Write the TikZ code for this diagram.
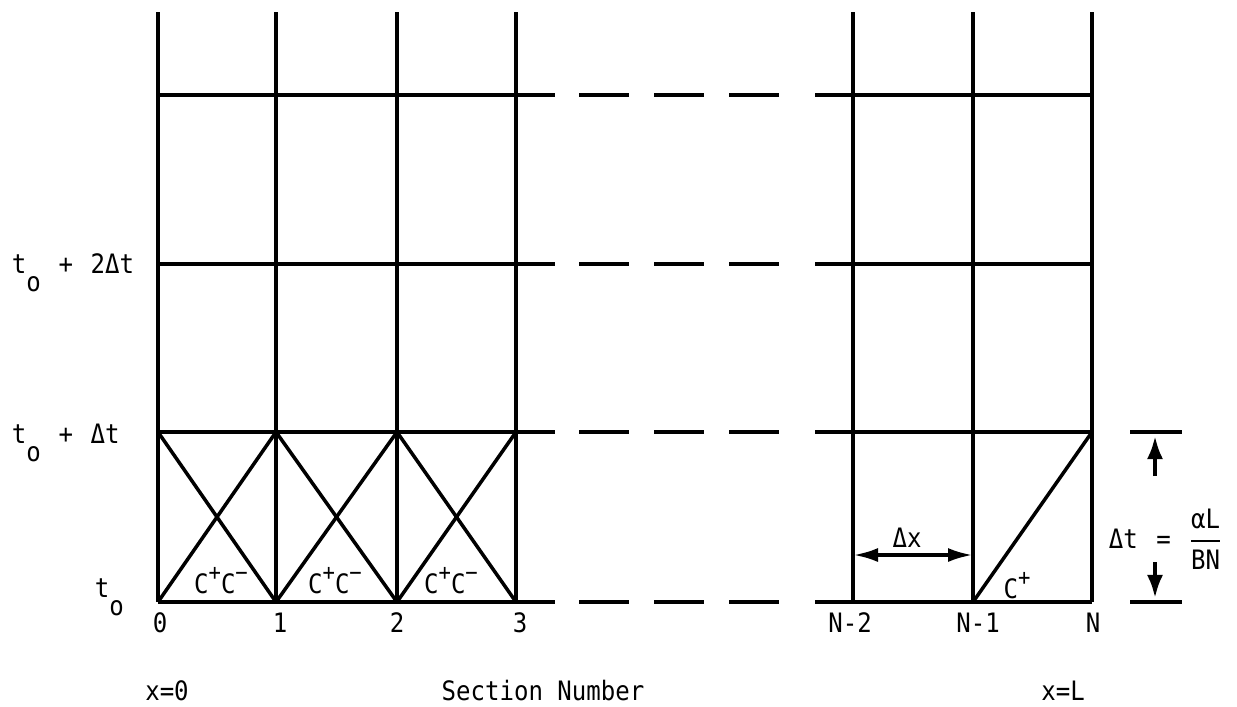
\documentclass[tikz,border=0pt]{standalone}
\usepackage{fontspec}
\setmainfont{DejaVu Sans Mono}[FakeStretch=0.9]
\usetikzlibrary{arrows.meta}
% t with its lowered o
\newcommand{\tzero}{t\raisebox{-0.68em}{o}}
% raised sign after C
\newcommand{\csign}[1]{\raisebox{0.45em}{\fontsize{6.5}{7}\selectfont #1}}

\begin{document}
\begin{tikzpicture}[x=0.01cm, y=-0.01cm, line width=1.1pt,
  lbl/.style={font=\fontsize{7.6}{8}\selectfont, inner sep=0pt},
  dimtip/.style={-{Latex[length=0.23cm, width=0.16cm]}}]
  \useasboundingbox (0,0) rectangle (1237,706);
  % grid: vertical section lines
  \foreach \xx in {158,276,397,516,853,973,1092}
    \draw (\xx,12) -- (\xx,602);
  % time levels, broken in the middle
  \foreach \yy in {95,264,432,602} {
    \draw (158,\yy) -- (555,\yy);
    \draw[dash pattern=on 0.5cm off 0.25cm] (579,\yy) -- (781,\yy);
    \draw (815,\yy) -- (1092,\yy);
  }
  % characteristics in the first sections
  \foreach \xa/\xb in {158/276, 276/397, 397/516} {
    \draw[line width=1pt] (\xa,602) -- (\xb,432);
    \draw[line width=1pt] (\xa,432) -- (\xb,602);
  }
  \draw[line width=1pt] (973,602) -- (1092,432);

  % characteristic labels
  \node[lbl, anchor=base] (cA) at (221,593) {C\csign{+}C\csign{−}};
  \node[lbl, anchor=base] (cB) at (335,593) {C\csign{+}C\csign{−}};
  \node[lbl, anchor=base] (cC) at (451,593) {C\csign{+}C\csign{−}};
  \node[lbl, anchor=base] (cN) at (1017,598) {C\csign{+}};

  % time level labels
  \node[lbl, anchor=base west] (tTwo) at (10,273) {\tzero\hspace{0.12em} + \hspace{0.12em}2Δt};
  \node[lbl, anchor=base west] (tOne) at (10,443) {\tzero\hspace{0.12em} + \hspace{0.12em}Δt};
  \node[lbl, anchor=base west] (tNil) at (93,597) {\tzero};

  % section numbers
  \foreach \xx/\nm in {160/0, 280/1, 397/2, 520/3, 850/N-2, 978/N-1, 1093/N}
    \node[lbl, anchor=base] (sec\nm) at (\xx,632) {\nm};

  % Delta x between N-2 and N-1
  \coordinate (dxL) at (853,555);
  \coordinate (dxR) at (973,555);
  \draw[{Latex[length=0.25cm, width=0.14cm]}-{Latex[length=0.25cm, width=0.14cm]}] (dxL) -- (dxR);
  \node[lbl, anchor=base] (dxT) at (907,547) {Δx};

  % Delta t dimension
  \draw (1130,432) -- (1182,432);
  \draw (1130,602) -- (1182,602);
  \coordinate (upA) at (1155,476);
  \coordinate (upB) at (1155,436);
  \coordinate (dnA) at (1155,562);
  \coordinate (dnB) at (1155,598);
  \draw[dimtip] (upA) -- (upB);
  \draw[dimtip] (dnA) -- (dnB);
  \node[lbl, anchor=base west] (dtT) at (1107,548) {Δt\hspace{0.15em} =\hspace{0.6em}$\displaystyle\frac{\mbox{αL}}{\mbox{BN}}$};

  % axis texts
  \node[lbl, anchor=base] (xNil) at (167,700) {x=0};
  \node[lbl, anchor=base] (secTxt) at (543,700) {Section Number};
  \node[lbl, anchor=base] (xEll) at (1063,700) {x=L};
\end{tikzpicture}
\end{document}
